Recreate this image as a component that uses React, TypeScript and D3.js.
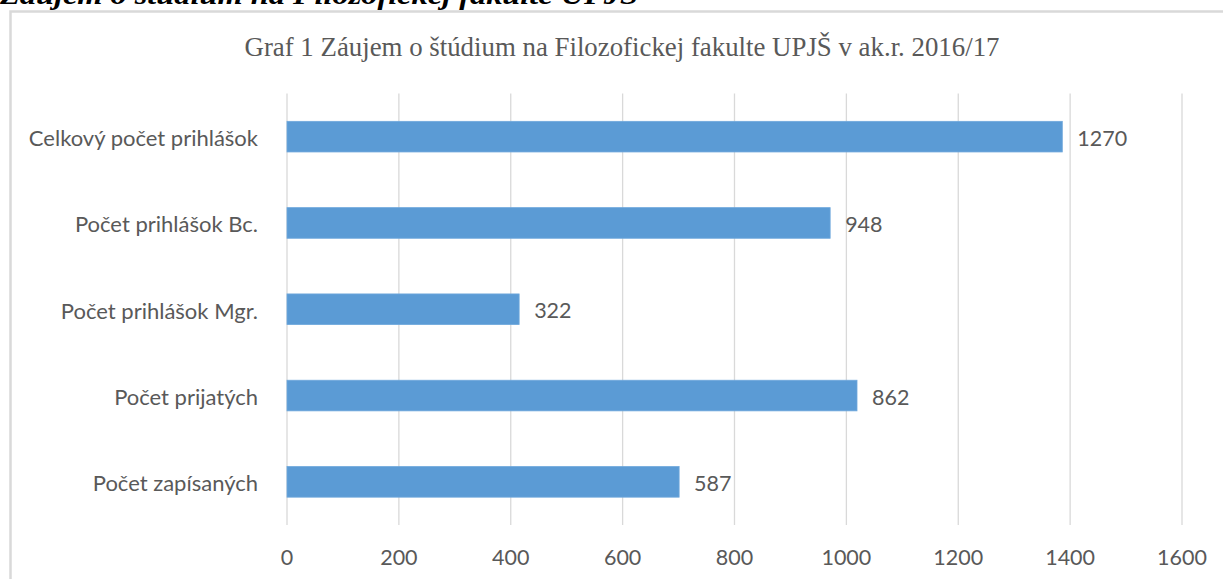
import React from 'react';
import * as d3 from 'd3';

// kategórie a hodnoty z grafu
const categories = [
  'Celkový počet prihlášok',
  'Počet prihlášok Bc.',
  'Počet prihlášok Mgr.',
  'Počet prijatých',
  'Počet zapísaných',
];
// dĺžky stĺpcov odčítané z osi (v obrázku nesedia s popiskami)
const barValues = [1386, 971, 415, 1019, 701];
// popisky údajov
const dataLabels = [1270, 948, 322, 862, 587];
const xTicks = [0, 200, 400, 600, 800, 1000, 1200, 1400, 1600];

const heading = 'Záujem o štúdium na Filozofickej fakulte UPJŠ';
const title = 'Graf 1 Záujem o štúdium na Filozofickej fakulte UPJŠ v ak.r. 2016/17';

const W = 1223;
const H = 579;

function App() {
  const x = d3.scaleLinear().domain([0, 1600]).range([287, 1182]);
  const y = d3.scaleBand<string>().domain(categories).range([93.5, 525]).paddingInner(0.645).paddingOuter(0.3225);

  const txt = '#595959';
  const sans = 'Lato, "Open Sans", sans-serif';

  return (
    <svg width={W} height={H} style={{ position: 'absolute', left: 0, top: 0, background: '#fff' }}>
      {/* nadpis z dokumentu, orezaný hore */}
      <text x={0} y={3.5} fontFamily='"Liberation Serif", "Times New Roman", serif' fontWeight="bold" fontStyle="italic"
        fontSize={27} textLength={638} lengthAdjust="spacingAndGlyphs" fill="#000">{heading}</text>

      {/* rámček grafu */}
      <rect x={10.5} y={11.5} width={1240} height={600} fill="#fff" stroke="#d9d9d9" strokeWidth={2.5} />

      <text x={622} y={56} textAnchor="middle" fontFamily='"Liberation Serif", "Times New Roman", serif'
        fontSize={27} textLength={755} lengthAdjust="spacingAndGlyphs" fill={txt}>{title}</text>

      {/* mriežka */}
      {xTicks.map(t => (
        <line key={t} x1={x(t)} x2={x(t)} y1={93.5} y2={525} stroke="#d9d9d9" strokeWidth={1.3} />
      ))}

      {/* stĺpce */}
      {categories.map((c, i) => (
        <g key={c}>
          <rect x={x(0)} y={y(c)} width={x(barValues[i]) - x(0)} height={y.bandwidth()}
            fill="#5b9bd5" stroke="#6fa8dc" strokeWidth={0.8} />
          <text x={x(barValues[i]) + 15} y={(y(c) ?? 0) + y.bandwidth() / 2 + 1} dominantBaseline="central"
            fontFamily={sans} fontSize={21.5} fill={txt}>{dataLabels[i]}</text>
          <text x={258} y={(y(c) ?? 0) + y.bandwidth() / 2 + 1} dominantBaseline="central" textAnchor="end"
            fontFamily={sans} fontSize={22} fill={txt}>{c}</text>
        </g>
      ))}

      {/* popisky osi x */}
      {xTicks.map(t => (
        <text key={'l' + t} x={x(t)} y={565} textAnchor="middle" fontFamily={sans} fontSize={21.5} fill={txt}>{t}</text>
      ))}
    </svg>
  );
}

export default App;
